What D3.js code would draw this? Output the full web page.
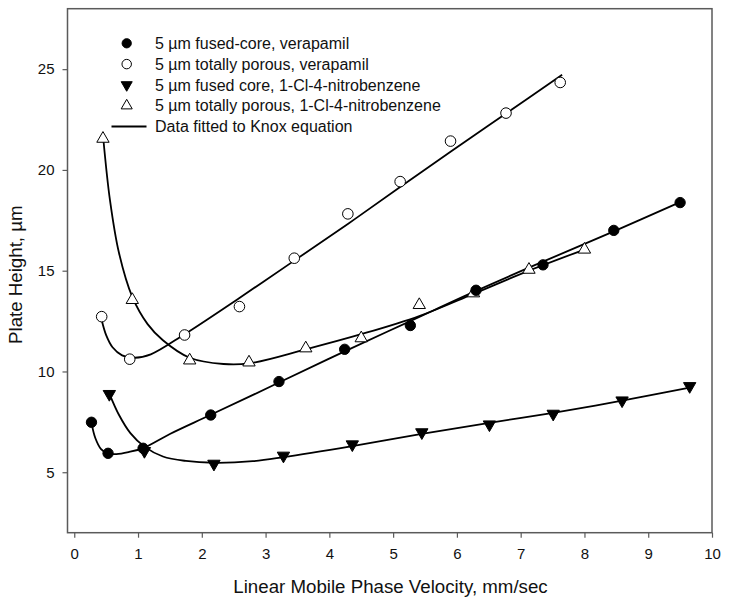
<!DOCTYPE html>
<html>
<head>
<meta charset="utf-8">
<script src="https://cdn.jsdelivr.net/npm/d3@7"></script>
<style>
  html, body { margin: 0; padding: 0; background: #fff; }
  svg { display: block; font-family: "Liberation Sans", Arial, sans-serif; }
</style>
</head>
<body>
<svg id="chart" width="729" height="605"></svg>
<script>
// ---- Data ----
const xTicks = [0, 1, 2, 3, 4, 5, 6, 7, 8, 9, 10];
const yTicks = [5, 10, 15, 20, 25];

// 5 µm fused-core, verapamil (filled circles)
const fcVerX = [0.27, 0.53, 1.08, 2.14, 3.21, 4.24, 5.27, 6.30, 7.35, 8.46, 9.50];
const fcVerY = [7.48, 5.94, 6.19, 7.84, 9.50, 11.10, 12.28, 14.03, 15.29, 17.00, 18.38];
// 5 µm totally porous, verapamil (open circles)
const tpVerX = [0.43, 0.87, 1.73, 2.59, 3.45, 4.29, 5.11, 5.90, 6.77, 7.62];
const tpVerY = [12.72, 10.61, 11.81, 13.22, 15.62, 17.82, 19.42, 21.43, 22.82, 24.34];
// 5 µm fused core, 1-Cl-4-nitrobenzene (filled down triangles)
const fcNbX = [0.55, 1.10, 2.19, 3.28, 4.36, 5.45, 6.51, 7.51, 8.59, 9.65];
const fcNbY = [8.88, 6.05, 5.42, 5.82, 6.38, 6.98, 7.37, 7.90, 8.56, 9.27];
// 5 µm totally porous, 1-Cl-4-nitrobenzene (open up triangles)
const tpNbX = [0.45, 0.91, 1.81, 2.74, 3.63, 4.50, 5.41, 6.26, 7.13, 8.00];
const tpNbY = [21.55, 13.55, 10.55, 10.45, 11.15, 11.65, 13.30, 13.88, 15.05, 16.05];

// Knox-fit curves
const fitFcVerX = [0.27, 0.33, 0.42, 0.53, 0.66, 0.85, 1.08, 1.50, 2.14, 3.21, 4.24, 5.27, 6.30, 7.35, 8.46, 9.50];
const fitFcVerY = [7.45, 6.70, 6.15, 5.93, 5.90, 6.00, 6.20, 6.90, 7.85, 9.45, 11.00, 12.50, 14.00, 15.45, 16.95, 18.40];
const fitTpVerX = [0.43, 0.50, 0.60, 0.75, 0.95, 1.20, 1.73, 2.59, 3.45, 4.29, 5.11, 5.90, 6.77, 7.65];
const fitTpVerY = [12.55, 11.80, 11.20, 10.80, 10.68, 10.85, 11.85, 13.65, 15.50, 17.32, 19.15, 20.90, 22.80, 24.72];
const fitFcNbX = [0.55, 0.70, 0.88, 1.10, 1.39, 1.75, 2.19, 2.80, 3.28, 4.36, 5.45, 6.51, 7.51, 8.59, 9.65];
const fitFcNbY = [8.90, 7.85, 6.94, 6.27, 5.78, 5.56, 5.47, 5.55, 5.75, 6.30, 6.90, 7.45, 7.95, 8.55, 9.20];
const fitTpNbX = [0.46, 0.56, 0.70, 0.91, 1.15, 1.39, 1.81, 2.34, 2.74, 3.63, 4.50, 5.41, 6.26, 7.13, 8.00];
const fitTpNbY = [21.40, 18.50, 15.90, 13.70, 12.35, 11.55, 10.68, 10.37, 10.40, 11.10, 11.85, 12.75, 13.85, 15.00, 16.05];

const legendLabels = [
  "5 \u00b5m fused-core, verapamil",
  "5 \u00b5m totally porous, verapamil",
  "5 \u00b5m fused core, 1-Cl-4-nitrobenzene",
  "5 \u00b5m totally porous, 1-Cl-4-nitrobenzene",
  "Data fitted to Knox equation"
];
const xTitle = "Linear Mobile Phase Velocity, mm/sec";
const yTitle = "Plate Height, \u00b5m";

// ---- Layout ----
const L = 67.5, R = 712, T = 8.7, B = 532.7;
const frameColor = "#5a5a5a";

const svg = d3.select("#chart");
const x = d3.scaleLinear().domain([-0.106, 10]).range([L, R]);
const y = d3.scaleLinear().domain([2, 28]).range([B, T]);

// Axes
const xAxis = d3.axisBottom(x).tickValues(xTicks).tickFormat(d3.format("d")).tickSize(5).tickPadding(11);
const gx = svg.append("g").attr("transform", `translate(0,${B})`).call(xAxis);
const yAxis = d3.axisLeft(y).tickValues(yTicks).tickFormat(d3.format("d")).tickSize(5).tickPadding(8);
const gy = svg.append("g").attr("transform", `translate(${L},0)`).call(yAxis);
[gx, gy].forEach(g => {
  g.select(".domain").remove();
  g.selectAll(".tick line").attr("stroke", frameColor).attr("stroke-width", 1.2);
  g.selectAll(".tick text").attr("fill", "#111").style("font-size", "15px")
    .style("font-family", '"Liberation Sans", Arial, sans-serif');
});

// Frame
svg.append("rect").attr("x", L).attr("y", T).attr("width", R - L).attr("height", B - T)
  .attr("fill", "none").attr("stroke", frameColor).attr("stroke-width", 1.5);

// Titles
svg.append("text").attr("x", 390.5).attr("y", 593).attr("text-anchor", "middle")
  .style("font-size", "18.7px").attr("fill", "#111").text(xTitle);
svg.append("text").attr("transform", "translate(22,274.7) rotate(-90)").attr("text-anchor", "middle")
  .style("font-size", "18.7px").attr("fill", "#111").text(yTitle);

// Fitted lines
const line = d3.line().x(d => x(d[0])).y(d => y(d[1])).curve(d3.curveCatmullRom.alpha(0.5));
const fits = [[fitFcVerX, fitFcVerY], [fitTpVerX, fitTpVerY], [fitFcNbX, fitFcNbY], [fitTpNbX, fitTpNbY]];
fits.forEach(([xs, ys]) => {
  svg.append("path").datum(d3.zip(xs, ys)).attr("d", line)
    .attr("fill", "none").attr("stroke", "#000").attr("stroke-width", 1.8);
});

// Marker symbols
const sym = {
  filledCircle: { type: d3.symbolCircle, size: 84, fill: "#000", stroke: "#000", sw: 1 },
  openCircle: { type: d3.symbolCircle, size: 88, fill: "#fff", stroke: "#000", sw: 1 },
  filledDown: { type: d3.symbolTriangle, size: 66, fill: "#000", stroke: "#000", sw: 1, rot: 180 },
  openUp: { type: d3.symbolTriangle, size: 66, fill: "#fff", stroke: "#000", sw: 1, rot: 0 }
};
function drawMarkers(xs, ys, s) {
  svg.append("g").selectAll("path").data(d3.zip(xs, ys)).join("path")
    .attr("transform", d => `translate(${x(d[0])},${y(d[1])}) rotate(${s.rot || 0})`)
    .attr("d", d3.symbol().type(s.type).size(s.size))
    .attr("fill", s.fill).attr("stroke", s.stroke).attr("stroke-width", s.sw);
}
drawMarkers(tpVerX, tpVerY, sym.openCircle);
drawMarkers(tpNbX, tpNbY, sym.openUp);
drawMarkers(fcVerX, fcVerY, sym.filledCircle);
drawMarkers(fcNbX, fcNbY, sym.filledDown);

// Legend
const legX = 126.7, legTextX = 155, legY0 = 43.3, legDy = 20.8;
const legSyms = [sym.filledCircle, sym.openCircle, sym.filledDown, sym.openUp];
const lg = svg.append("g");
legendLabels.forEach((lab, i) => {
  const cy = legY0 + i * legDy;
  if (i < 4) {
    const s = legSyms[i];
    lg.append("path").attr("transform", `translate(${legX},${cy}) rotate(${s.rot || 0})`)
      .attr("d", d3.symbol().type(s.type).size(s.size * 0.8))
      .attr("fill", s.fill).attr("stroke", s.stroke).attr("stroke-width", s.sw);
  } else {
    lg.append("line").attr("x1", 111.5).attr("x2", 146.5).attr("y1", cy).attr("y2", cy)
      .attr("stroke", "#000").attr("stroke-width", 1.8);
  }
  lg.append("text").attr("x", legTextX).attr("y", cy + 5.6).style("font-size", "16px")
    .attr("fill", "#111").text(lab);
});
</script>
</body>
</html>
